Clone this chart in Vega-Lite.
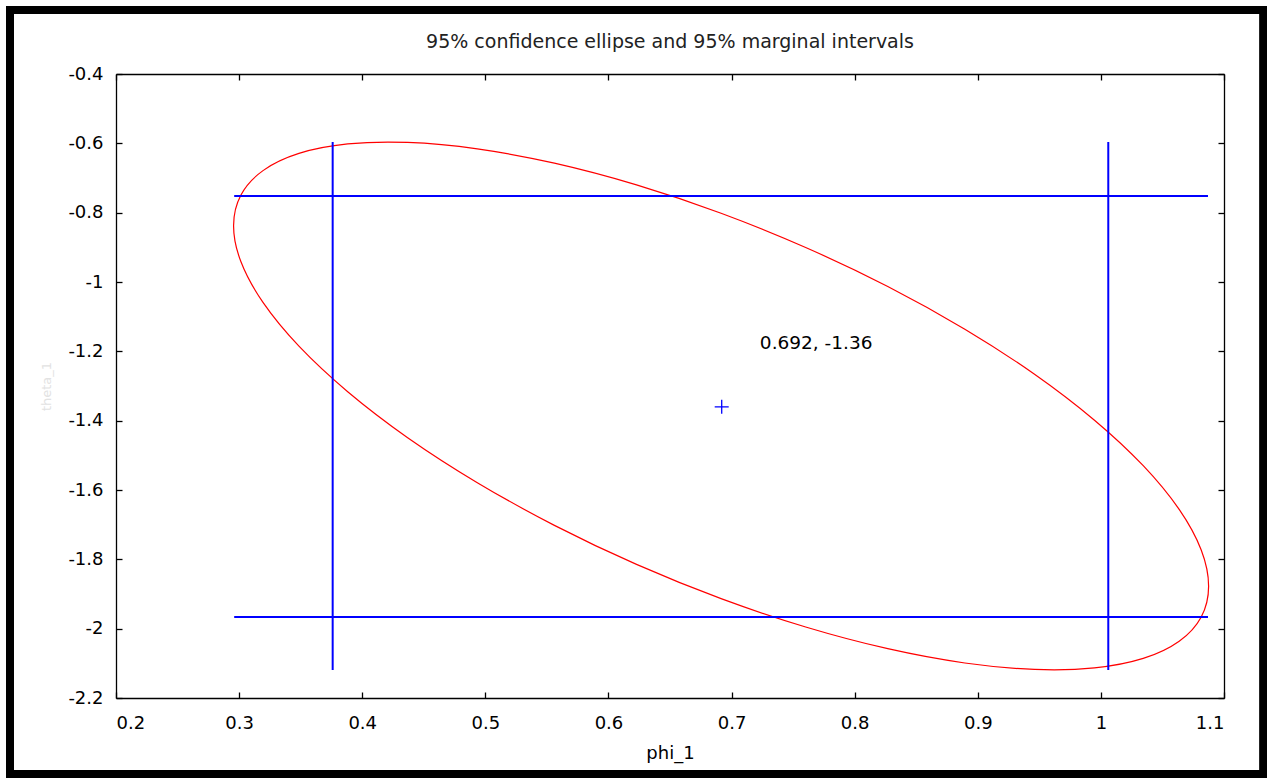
{
  "$schema": "https://vega.github.io/schema/vega-lite/v6.json",
  "width": 1108,
  "height": 624,
  "autosize": {"type": "none"},
  "padding": {"left": 116, "top": 74, "right": 43, "bottom": 80},
  "background": "white",
  "title": {
    "text": "95% confidence ellipse and 95% marginal intervals",
    "font": "DejaVu Sans",
    "fontSize": 19,
    "fontWeight": "normal",
    "color": "#222222",
    "anchor": "middle",
    "frame": "group",
    "offset": -46
  },
  "config": {
    "view": {"stroke": null},
    "axis": {
      "grid": false,
      "domainColor": "black",
      "domainWidth": 1.3,
      "tickColor": "black",
      "tickWidth": 1.3,
      "labelFont": "DejaVu Sans",
      "labelFontSize": 18,
      "labelColor": "black",
      "titleFont": "DejaVu Sans",
      "titleFontWeight": "normal"
    }
  },
  "datasets": {
    "ellipse": [
      {"i": 0, "phi": 1.0875, "theta": -1.8776},
      {"i": 1, "phi": 1.0815, "theta": -1.7732},
      {"i": 2, "phi": 1.0636, "theta": -1.6561},
      {"i": 3, "phi": 1.0344, "theta": -1.5299},
      {"i": 4, "phi": 0.9948, "theta": -1.3986},
      {"i": 5, "phi": 0.9461, "theta": -1.2660},
      {"i": 6, "phi": 0.8895, "theta": -1.1362},
      {"i": 7, "phi": 0.8269, "theta": -1.0130},
      {"i": 8, "phi": 0.7602, "theta": -0.9004},
      {"i": 9, "phi": 0.6915, "theta": -0.8016},
      {"i": 10, "phi": 0.6228, "theta": -0.7198},
      {"i": 11, "phi": 0.5561, "theta": -0.6572},
      {"i": 12, "phi": 0.4935, "theta": -0.6160},
      {"i": 13, "phi": 0.4369, "theta": -0.5974},
      {"i": 14, "phi": 0.3882, "theta": -0.6018},
      {"i": 15, "phi": 0.3486, "theta": -0.6291},
      {"i": 16, "phi": 0.3194, "theta": -0.6787},
      {"i": 17, "phi": 0.3015, "theta": -0.7488},
      {"i": 18, "phi": 0.2955, "theta": -0.8374},
      {"i": 19, "phi": 0.3015, "theta": -0.9418},
      {"i": 20, "phi": 0.3194, "theta": -1.0589},
      {"i": 21, "phi": 0.3486, "theta": -1.1851},
      {"i": 22, "phi": 0.3882, "theta": -1.3164},
      {"i": 23, "phi": 0.4369, "theta": -1.4490},
      {"i": 24, "phi": 0.4935, "theta": -1.5788},
      {"i": 25, "phi": 0.5561, "theta": -1.7020},
      {"i": 26, "phi": 0.6228, "theta": -1.8146},
      {"i": 27, "phi": 0.6915, "theta": -1.9134},
      {"i": 28, "phi": 0.7602, "theta": -1.9952},
      {"i": 29, "phi": 0.8269, "theta": -2.0578},
      {"i": 30, "phi": 0.8895, "theta": -2.0990},
      {"i": 31, "phi": 0.9461, "theta": -2.1176},
      {"i": 32, "phi": 0.9948, "theta": -2.1132},
      {"i": 33, "phi": 1.0344, "theta": -2.0859},
      {"i": 34, "phi": 1.0636, "theta": -2.0363},
      {"i": 35, "phi": 1.0815, "theta": -1.9662}
    ],
    "hrules": [
      {"y": -0.752, "x1": 0.296, "x2": 1.087},
      {"y": -1.966, "x1": 0.296, "x2": 1.087}
    ],
    "vrules": [
      {"x": 0.376, "y1": -0.596, "y2": -2.119},
      {"x": 1.006, "y1": -0.596, "y2": -2.119}
    ],
    "center": [
      {"phi": 0.692, "theta": -1.36, "label": "0.692, -1.36", "lx": 0.723, "ly": -1.176}
    ]
  },
  "layer": [
    {
      "data": {"name": "ellipse"},
      "mark": {"type": "line", "color": "#ff0000", "strokeWidth": 1.2, "interpolate": "cardinal-closed"},
      "encoding": {
        "x": {
          "field": "phi", "type": "quantitative",
          "scale": {"domain": [0.2, 1.1], "nice": false, "zero": false},
          "axis": {
            "orient": "bottom",
            "title": "phi_1",
            "titleFontSize": 18,
            "titleColor": "black",
            "titlePadding": 12,
            "values": [0.2, 0.3, 0.4, 0.5, 0.6, 0.7, 0.8, 0.9, 1, 1.1],
            "labelExpr": "datum.value + ''",
            "tickSize": -6,
            "labelPadding": 22
          }
        },
        "y": {
          "field": "theta", "type": "quantitative",
          "scale": {"domain": [-2.2, -0.4], "nice": false, "zero": false},
          "axis": {
            "orient": "left",
            "title": "theta_1",
            "titleColor": "#e2e2e2",
            "titleFontSize": 13,
            "titlePadding": 14,
            "values": [-0.4, -0.6, -0.8, -1, -1.2, -1.4, -1.6, -1.8, -2, -2.2],
            "labelExpr": "datum.value + ''",
            "tickSize": -6,
            "labelPadding": 19
          }
        },
        "order": {"field": "i", "type": "quantitative"}
      }
    },
    {
      "data": {"name": "hrules"},
      "mark": {"type": "rule", "color": "#0000ff", "strokeWidth": 2},
      "encoding": {
        "y": {"field": "y", "type": "quantitative", "axis": {"orient": "right", "labels": false, "title": null, "tickSize": -6, "values": [-0.4, -0.6, -0.8, -1, -1.2, -1.4, -1.6, -1.8, -2, -2.2]}},
        "x": {"field": "x1", "type": "quantitative", "axis": {"orient": "top", "labels": false, "title": null, "tickSize": -6, "values": [0.2, 0.3, 0.4, 0.5, 0.6, 0.7, 0.8, 0.9, 1, 1.1]}},
        "x2": {"field": "x2"}
      }
    },
    {
      "data": {"name": "vrules"},
      "mark": {"type": "rule", "color": "#0000ff", "strokeWidth": 2},
      "encoding": {
        "x": {"field": "x", "type": "quantitative", "axis": null},
        "y": {"field": "y1", "type": "quantitative", "axis": null},
        "y2": {"field": "y2"}
      }
    },
    {
      "data": {"name": "center"},
      "mark": {"type": "point", "shape": "M-1,0L1,0M0,-1L0,1", "size": 196, "filled": false, "color": "#0000ff", "strokeWidth": 1.3, "opacity": 1},
      "encoding": {
        "x": {"field": "phi", "type": "quantitative", "axis": null},
        "y": {"field": "theta", "type": "quantitative", "axis": null}
      }
    },
    {
      "data": {"name": "center"},
      "mark": {"type": "text", "align": "left", "baseline": "middle", "font": "DejaVu Sans", "fontSize": 18.5, "color": "black"},
      "encoding": {
        "x": {"field": "lx", "type": "quantitative", "axis": null},
        "y": {"field": "ly", "type": "quantitative", "axis": null},
        "text": {"field": "label"}
      }
    },
    {
      "data": {"values": [{}]},
      "mark": {"type": "rect", "fill": null, "filled": false, "stroke": "black", "strokeWidth": 8, "clip": false},
      "encoding": {
        "x": {"datum": 0.1139, "type": "quantitative", "axis": null},
        "x2": {"datum": 1.1318},
        "y": {"datum": -0.2154, "type": "quantitative", "axis": null},
        "y2": {"datum": -2.419}
      }
    }
  ]
}
